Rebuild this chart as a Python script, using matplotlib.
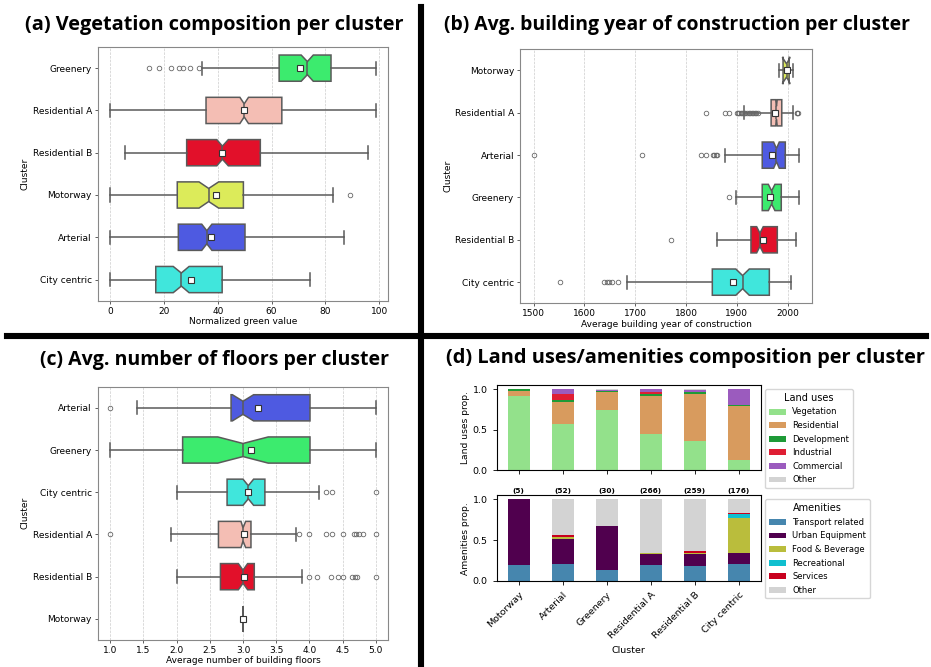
import numpy as np
import matplotlib
matplotlib.use("Agg")
import matplotlib.pyplot as plt
from matplotlib.lines import Line2D

plt.rcParams["font.family"] = "DejaVu Sans"

# colours of the clusters as they appear in the boxplots
cluster_colors = {
    "Greenery": "#3CEB6E",
    "Residential A": "#F4BEB4",
    "Residential B": "#E2102A",
    "Motorway": "#DCEB5A",
    "Arterial": "#4E5AE1",
    "City centric": "#40E6DC",
}

# ---- (a) normalized green value
veg_order = ["Greenery", "Residential A", "Residential B", "Motorway", "Arterial", "City centric"]
veg_lo = [34.2, 0.0, 5.5, 0.0, 0.0, 0.0]
veg_q1 = [62.8, 35.6, 28.4, 24.9, 25.3, 16.9]
veg_med = [73.3, 49.8, 41.7, 36.6, 35.9, 26.4]
veg_q3 = [82.1, 63.8, 55.8, 49.5, 50.1, 41.6]
veg_hi = [98.8, 98.8, 95.8, 82.8, 87.0, 74.2]
veg_mean = [70.7, 49.6, 41.7, 39.2, 37.5, 29.9]
veg_cilo = [71.0, 48.2, 39.6, 33.0, 34.0, 23.4]
veg_cihi = [75.5, 51.4, 43.9, 40.3, 37.8, 29.3]
veg_fliers = [[14.4, 18.2, 22.6, 25.6, 26.9, 29.7, 33.1], [], [], [89.0], [], []]

# ---- (b) average building year of construction
year_order = ["Motorway", "Residential A", "Arterial", "Greenery", "Residential B", "City centric"]
year_lo = [1983.5, 1914.7, 1876.0, 1899.0, 1861.5, 1684.4]
year_q1 = [1991.0, 1967.5, 1950.0, 1950.0, 1927.8, 1851.7]
year_med = [1998.0, 1978.0, 1978.0, 1968.5, 1945.5, 1911.4]
year_q3 = [2003.0, 1988.5, 1995.4, 1987.5, 1979.7, 1964.0]
year_hi = [2011.5, 2011.0, 2021.6, 2021.6, 2015.7, 2006.6]
year_mean = [1998.0, 1975.5, 1968.5, 1965.0, 1950.8, 1891.7]
year_cilo = [1989.5, 1976.5, 1972.4, 1962.0, 1939.0, 1898.0]
year_cihi = [2005.0, 1979.5, 1983.6, 1975.0, 1952.0, 1924.5]
year_fliers = [
    [],
    [1838.6, 1876.6, 1884.5, 1899.6, 1902.0, 1905.0, 1908.0, 1911.0, 1914.0, 1917.0,
     1920.0, 1923.0, 1926.0, 1929.0, 1932.0, 1935.0, 1938.0, 1941.0, 2017.7, 2019.0, 2020.3],
    [1500.0, 1712.6, 1830.0, 1840.0, 1854.0, 1856.0, 1858.0, 1860.0],
    [1885.0],
    [1771.0],
    [1551.0, 1638.5, 1645.0, 1649.0, 1653.5, 1666.7],
]

# ---- (c) average number of building floors
floor_order = ["Arterial", "Greenery", "City centric", "Residential A", "Residential B", "Motorway"]
floor_lo = [1.40, 1.00, 2.00, 1.92, 2.00, 3.00]
floor_q1 = [2.82, 2.09, 2.76, 2.63, 2.66, 3.00]
floor_med = [3.00, 3.00, 3.08, 3.00, 3.00, 3.00]
floor_q3 = [4.01, 4.01, 3.33, 3.12, 3.17, 3.00]
floor_hi = [5.00, 5.00, 4.14, 3.80, 3.89, 3.00]
floor_mean = [3.23, 3.12, 3.08, 3.02, 3.02, 3.00]
floor_cilo = [2.84, 2.62, 3.00, 2.97, 2.93, 3.00]
floor_cihi = [3.16, 3.38, 3.16, 3.04, 3.07, 3.00]
floor_fliers = [
    [1.0],
    [],
    [4.25, 4.34, 5.0],
    [1.0, 3.85, 4.0, 4.25, 4.34, 4.5, 4.67, 4.71, 4.75, 4.81, 5.0],
    [4.0, 4.12, 4.33, 4.43, 4.5, 4.65, 4.69, 4.72, 5.0],
    [],
]

# ---- (d) land uses / amenities composition
comp_order = ["Motorway", "Arterial", "Greenery", "Residential A", "Residential B", "City centric"]
comp_counts = [5, 52, 30, 266, 259, 176]

land_names = ["Vegetation", "Residential", "Development", "Industrial", "Commercial", "Other"]
land_colors = ["#93E18B", "#D89B5E", "#1E9A37", "#DF1E33", "#9B5BBE", "#D3D3D3"]
land_vegetation = [0.910, 0.574, 0.740, 0.450, 0.364, 0.128]
land_residential = [0.070, 0.265, 0.219, 0.459, 0.578, 0.665]
land_development = [0.020, 0.029, 0.012, 0.029, 0.017, 0.007]
land_industrial = [0.000, 0.070, 0.005, 0.029, 0.003, 0.002]
land_commercial = [0.000, 0.062, 0.015, 0.029, 0.021, 0.198]
land_other = [0.000, 0.000, 0.009, 0.004, 0.017, 0.000]

amen_names = ["Transport related", "Urban Equipment", "Food & Beverage", "Recreational", "Services", "Other"]
amen_colors = ["#4686AE", "#50004E", "#BABD3C", "#10BFCF", "#C8001E", "#D3D3D3"]
amen_transport = [0.197, 0.213, 0.131, 0.193, 0.180, 0.205]
amen_urban = [0.803, 0.307, 0.541, 0.143, 0.156, 0.143]
amen_food = [0.000, 0.013, 0.005, 0.008, 0.012, 0.418]
amen_recreational = [0.000, 0.000, 0.000, 0.000, 0.000, 0.054]
amen_services = [0.000, 0.028, 0.000, 0.000, 0.017, 0.008]
amen_other = [0.000, 0.439, 0.323, 0.656, 0.635, 0.172]

FS = 6.5
LINE = "#5a5a5a"


def box_panel(ax, order, lo, q1, med, q3, hi, mean, cilo, cihi, fliers):
    stats = []
    for i, name in enumerate(order):
        stats.append(dict(whislo=lo[i], q1=q1[i], med=med[i], q3=q3[i], whishi=hi[i],
                          mean=mean[i], cilo=cilo[i], cihi=cihi[i],
                          fliers=fliers[i], label=name))
    art = ax.bxp(stats, positions=range(len(order)), widths=0.62,
                 orientation="horizontal", shownotches=True, showmeans=True,
                 patch_artist=True,
                 boxprops=dict(edgecolor=LINE, linewidth=1.1),
                 whiskerprops=dict(color=LINE, linewidth=1.1),
                 capprops=dict(color=LINE, linewidth=1.1),
                 medianprops=dict(color=LINE, linewidth=1.1),
                 meanprops=dict(marker="s", markerfacecolor="white",
                                markeredgecolor="#333333", markersize=4.4,
                                markeredgewidth=0.8),
                 flierprops=dict(marker="o", markerfacecolor="none",
                                 markeredgecolor="#666666", markersize=3.3,
                                 markeredgewidth=0.6))
    for patch, name in zip(art["boxes"], order):
        patch.set_facecolor(cluster_colors[name])
    ax.set_ylim(len(order) - 0.5, -0.5)
    ax.grid(axis="x", linestyle="--", color="#cccccc", linewidth=0.5)
    ax.set_axisbelow(True)
    ax.set_ylabel("Cluster", fontsize=FS, labelpad=2)
    ax.tick_params(labelsize=FS, length=2.2, width=0.6, pad=2, color="#444444")
    for s in ax.spines.values():
        s.set_color("#888888")


fig = plt.figure(figsize=(9.31, 6.67), dpi=100)
W, H = 931.0, 667.0


def px_axes(left, top, right, bottom):
    return fig.add_axes([left / W, 1 - bottom / H, (right - left) / W, (bottom - top) / H])


# (a)
ax_a = px_axes(97.7, 47, 388, 300.7)
box_panel(ax_a, veg_order, veg_lo, veg_q1, veg_med, veg_q3, veg_hi,
          veg_mean, veg_cilo, veg_cihi, veg_fliers)
ax_a.set_xlim(-4.7, 103.3)
ax_a.set_xticks([0, 20, 40, 60, 80, 100])
ax_a.set_xlabel("Normalized green value", fontsize=FS, labelpad=1)

# (b)
ax_b = px_axes(520, 49.3, 812.3, 303.3)
box_panel(ax_b, year_order, year_lo, year_q1, year_med, year_q3, year_hi,
          year_mean, year_cilo, year_cihi, year_fliers)
ax_b.set_xlim(1473, 2048.6)
ax_b.set_xticks([1500, 1600, 1700, 1800, 1900, 2000])
ax_b.set_xlabel("Average building year of construction", fontsize=FS, labelpad=1)

# (c)
ax_c = px_axes(97.7, 386.7, 388.3, 640)
box_panel(ax_c, floor_order, floor_lo, floor_q1, floor_med, floor_q3, floor_hi,
          floor_mean, floor_cilo, floor_cihi, floor_fliers)
ax_c.set_xlim(0.81, 5.19)
ax_c.set_xticks([1.0, 1.5, 2.0, 2.5, 3.0, 3.5, 4.0, 4.5, 5.0])
ax_c.set_xlabel("Average number of building floors", fontsize=FS, labelpad=1)

# (d)
ax_d1 = px_axes(496.7, 385, 761, 470)
ax_d2 = px_axes(496.7, 495.3, 761, 581)
x = np.arange(len(comp_order))

land_values = [land_vegetation, land_residential, land_development,
               land_industrial, land_commercial, land_other]
bottom = np.zeros(len(comp_order))
for name, col, vals in zip(land_names, land_colors, land_values):
    ax_d1.bar(x, vals, 0.5, bottom=bottom, color=col, label=name)
    bottom += np.array(vals)

amen_values = [amen_transport, amen_urban, amen_food,
               amen_recreational, amen_services, amen_other]
bottom = np.zeros(len(comp_order))
for name, col, vals in zip(amen_names, amen_colors, amen_values):
    ax_d2.bar(x, vals, 0.5, bottom=bottom, color=col, label=name)
    bottom += np.array(vals)

for ax in (ax_d1, ax_d2):
    ax.set_xlim(-0.5, len(comp_order) - 0.5)
    ax.set_ylim(0, 1.05)
    ax.set_yticks([0.0, 0.5, 1.0])
    ax.set_xticks(x)
    ax.tick_params(labelsize=6.8, length=3, width=0.6)
ax_d1.set_xticklabels([])
ax_d2.set_xticklabels(comp_order, rotation=45, ha="right", rotation_mode="anchor")
ax_d1.set_ylabel("Land uses prop.", fontsize=6.6, labelpad=2)
ax_d2.set_ylabel("Amenities prop.", fontsize=6.6, labelpad=2)
ax_d2.set_xlabel("Cluster", fontsize=6.8)

for xi, n in zip(x, comp_counts):
    ax_d2.text(xi, 1.07, f"({n})", ha="center", va="bottom",
               fontsize=5.3, fontweight="bold")

leg_kw = dict(loc="upper left", bbox_to_anchor=(1.0, 1.0), fontsize=6.0,
              title_fontsize=7.0, handlelength=2.0, labelspacing=0.55,
              borderpad=0.45)
ax_d1.legend(title="Land uses", **leg_kw)
ax_d2.legend(title="Amenities", **leg_kw)

# panel titles, each scaled to the width it takes in the picture
renderer = fig.canvas.get_renderer()


def panel_title(cx, cy, width, text):
    t = fig.text(cx / W, 1 - cy / H, text, ha="center", va="center",
                 fontsize=12, fontweight="bold", family="Open Sans")
    w = t.get_window_extent(renderer).width
    t.set_fontsize(12 * width / w)


panel_title(214, 25, 378, "(a) Vegetation composition per cluster")
panel_title(677.5, 25, 465, "(b) Avg. building year of construction per cluster")
panel_title(214, 360, 348, "(c) Avg. number of floors per cluster")
panel_title(685, 358, 480, "(d) Land uses/amenities composition per cluster")

# thick separators between the panels
fig.add_artist(Line2D([421 / W, 421 / W], [1 - 7 / H, 0], color="black",
                      linewidth=4.4, transform=fig.transFigure))
fig.add_artist(Line2D([7 / W, 926 / W], [1 - 335.5 / H, 1 - 335.5 / H], color="black",
                      linewidth=4.4, transform=fig.transFigure))

fig.savefig("out.png", dpi=100)
